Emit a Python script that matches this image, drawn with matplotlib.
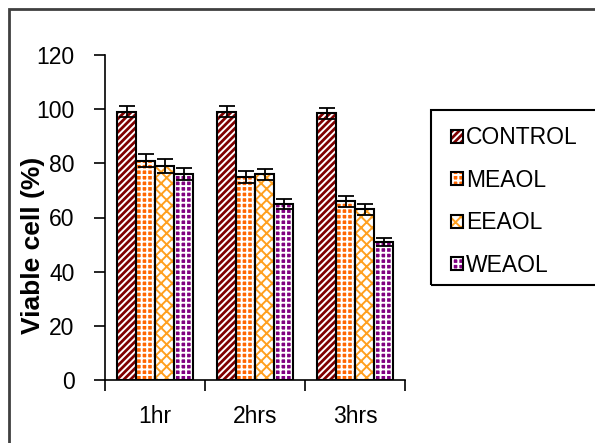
import matplotlib
matplotlib.use("Agg")
import matplotlib.pyplot as plt
from matplotlib.patches import Rectangle, Patch
from matplotlib.legend_handler import HandlerTuple
import numpy as np

categories = ["1hr", "2hrs", "3hrs"]
series_names = ["CONTROL", "MEAOL", "EEAOL", "WEAOL"]
control = [99, 99, 98.5]
meaol = [81, 75, 66]
eeaol = [79, 76, 63]
weaol = [76, 65, 51]
control_err = [2, 2, 2]
meaol_err = [2.5, 2.2, 2]
eeaol_err = [2.5, 2, 2]
weaol_err = [2.3, 2, 1.5]

values = [control, meaol, eeaol, weaol]
errors = [control_err, meaol_err, eeaol_err, weaol_err]
# (face, hatch colour, hatch)
styles = [("#800000", "white", "/////"),
          ("#FF6600", "white", "+++"),
          ("white", "#FFA020", "xxx"),
          ("#800080", "white", "+++")]

plt.rcParams["font.family"] = ["Liberation Sans", "DejaVu Sans"]
plt.rcParams["hatch.linewidth"] = 1.4

W, H = 595, 443
fig = plt.figure(figsize=(W / 100, H / 100), dpi=100)
ax = fig.add_axes([105 / W, 1 - 380 / H, 300 / W, 325 / H])

x = np.arange(len(categories))
w = 0.19
for i, (vals, errs, (fc, hc, ht)) in enumerate(zip(values, errors, styles)):
    pos = x + (i - 1.5) * w
    ax.bar(pos, vals, w, color=fc, edgecolor=hc, hatch=ht, linewidth=0, zorder=2)
    ax.bar(pos, vals, w, fill=False, edgecolor="black", linewidth=1.5, zorder=3)
    ax.errorbar(pos, vals, yerr=errs, fmt="none", ecolor="black",
                elinewidth=1.3, capsize=5.5, capthick=1.3, zorder=4)

ax.set_xlim(-0.5, 2.5)
ax.set_ylim(0, 120)
ax.set_yticks(np.arange(0, 121, 20))
ax.set_xticks(x)
ax.set_xticklabels(categories)
ax.set_xticks([-0.5, 0.5, 1.5, 2.5], minor=True)
ax.tick_params(axis="x", which="major", length=0, pad=18, labelsize=16.5)
ax.tick_params(axis="x", which="minor", length=8, width=1.2, direction="out")
ax.tick_params(axis="y", length=8, width=1.2, direction="out", pad=14, labelsize=16.5)
for s in ["top", "right"]:
    ax.spines[s].set_visible(False)
for s in ["left", "bottom"]:
    ax.spines[s].set_linewidth(1.2)

fig.text(33 / W, 1 - 245 / H, "Viable cell (%)", rotation=90, fontsize=19,
         fontweight="bold", ha="center", va="center")

# outer frame
fig.patches.append(Rectangle((9 / W, -0.1), 1.2, 1 - 9 / H + 0.1,
                             transform=fig.transFigure, fill=False,
                             edgecolor="#404040", linewidth=2))
# legend frame
fig.patches.append(Rectangle((431 / W, 1 - 285 / H), 0.5, 175 / H,
                             transform=fig.transFigure, fill=False,
                             edgecolor="black", linewidth=1.5))

handles = []
for fc, hc, ht in styles:
    handles.append((Patch(facecolor=fc, edgecolor=hc, hatch=ht, linewidth=0),
                    Patch(fill=False, edgecolor="black", linewidth=1.5)))
fig.legend(handles, series_names, loc="upper left",
           bbox_to_anchor=(440 / W, 1 - 115 / H), frameon=False,
           fontsize=16.5, handlelength=0.5, handleheight=0.5,
           handletextpad=0.15, labelspacing=0.85, borderpad=0,
           handler_map={tuple: HandlerTuple(ndivide=1)})

fig.savefig("out.png", dpi=100)
